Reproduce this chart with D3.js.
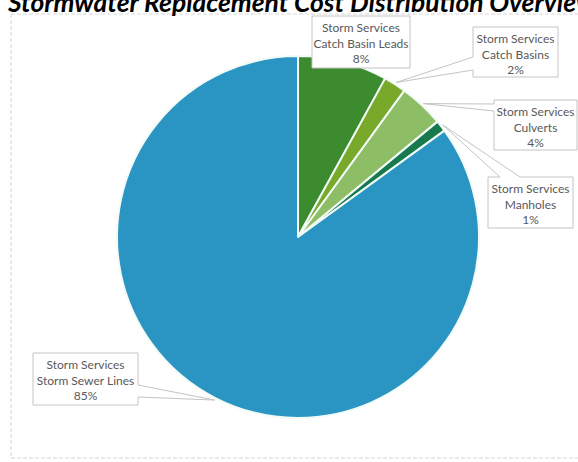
<!DOCTYPE html>
<html>
<head>
<meta charset="utf-8">
<script src="https://cdn.jsdelivr.net/npm/d3@7"></script>
<style>
  html, body { margin: 0; padding: 0; background: #ffffff; }
  svg { display: block; }
</style>
</head>
<body>
<svg id="chart" width="578" height="462"></svg>
<script>
// Stormwater replacement cost shares, clockwise from 12 o'clock
const groups   = ["Storm Services", "Storm Services", "Storm Services", "Storm Services", "Storm Services"];
const assets   = ["Catch Basin Leads", "Catch Basins", "Culverts", "Manholes", "Storm Sewer Lines"];
const shares   = [8, 2, 4, 1, 85];
const pctLabels = ["8%", "2%", "4%", "1%", "85%"];
const titleText = "Stormwater Replacement Cost Distribution Overview";

// Slice colours
const sliceColors = ["#3c8b2e", "#79a92b", "#8dbe66", "#177a4e", "#2a95c2"];

// Callout boxes: box rectangle plus which side carries the pointer wedge
const callouts = [
  { x: 312, y: 16,  w: 98,  h: 52, side: "none" },
  { x: 473, y: 27,  w: 85,  h: 50, side: "left",  a0: 30, a1: 43 },
  { x: 494, y: 100, w: 83,  h: 50, side: "left",  a0: 4,  a1: 11 },
  { x: 488, y: 177, w: 85,  h: 51, side: "top",   a0: 12, a1: 32 },
  { x: 33,  y: 353, w: 105, h: 52, side: "right", a0: 32, a1: 44 }
];

const svg = d3.select("#chart");
const cx = 298, cy = 237, radius = 181;

// Chart area frame
svg.append("rect")
  .attr("x", 11).attr("y", 14)
  .attr("width", 620).attr("height", 444)
  .attr("fill", "none")
  .attr("stroke", "#d6d6d6")
  .attr("stroke-width", 1)
  .attr("stroke-dasharray", "4,2");

// Title, sized to span the top of the frame
const title = svg.append("text")
  .attr("x", 8).attr("y", 12)
  .attr("font-family", "Lato, 'Open Sans', sans-serif")
  .attr("font-weight", "bold")
  .attr("font-style", "italic")
  .attr("font-size", 20)
  .attr("fill", "#000")
  .text(titleText);
const tLen = title.node().getComputedTextLength();
title.attr("font-size", 20 * 588 / tLen);

// Pie
const data = shares.map((v, i) => ({ asset: assets[i], group: groups[i], value: v, label: pctLabels[i], i }));
const pie = d3.pie().sort(null).value(d => d.value);
const arcs = pie(data);
const arc = d3.arc().innerRadius(0).outerRadius(radius);

const g = svg.append("g").attr("transform", `translate(${cx},${cy})`);
g.selectAll("path.slice")
  .data(arcs)
  .enter().append("path")
  .attr("class", "slice")
  .attr("d", arc)
  .attr("fill", d => sliceColors[d.data.i])
  .attr("stroke", "#f2fbf6")
  .attr("stroke-width", 2)
  .attr("stroke-linejoin", "round");

// Point on the rim at the middle of a slice
function rimPoint(d, r) {
  const a = (d.startAngle + d.endAngle) / 2;
  return { x: cx + r * Math.sin(a), y: cy - r * Math.cos(a) };
}

// Rectangle with a wedge pointing at the slice
function calloutPath(b, tip) {
  const p = d3.path();
  const { x, y, w, h, side, a0, a1 } = b;
  p.moveTo(x, y);
  if (side === "top") { p.lineTo(x + a0, y); p.lineTo(tip.x, tip.y); p.lineTo(x + a1, y); }
  p.lineTo(x + w, y);
  if (side === "right") { p.lineTo(x + w, y + a0); p.lineTo(tip.x, tip.y); p.lineTo(x + w, y + a1); }
  p.lineTo(x + w, y + h);
  p.lineTo(x, y + h);
  if (side === "left") { p.lineTo(x, y + a1); p.lineTo(tip.x, tip.y); p.lineTo(x, y + a0); }
  p.closePath();
  return p.toString();
}

const labels = svg.append("g");
arcs.forEach((d, k) => {
  const b = callouts[k];
  const tip = rimPoint(d, radius + 2);
  labels.append("path")
    .attr("d", calloutPath(b, tip))
    .attr("fill", "#ffffff")
    .attr("stroke", "#c4c4c4")
    .attr("stroke-width", 1);
  const lines = [d.data.group, d.data.asset, d.data.label];
  const t = labels.append("text")
    .attr("font-family", "Lato, 'Open Sans', sans-serif")
    .attr("font-size", 12)
    .attr("fill", "#595959")
    .attr("text-anchor", "middle");
  lines.forEach((s, j) => {
    t.append("tspan")
      .attr("x", b.x + b.w / 2)
      .attr("y", b.y + 16 + j * 15.5)
      .text(s);
  });
});
</script>
</body>
</html>
